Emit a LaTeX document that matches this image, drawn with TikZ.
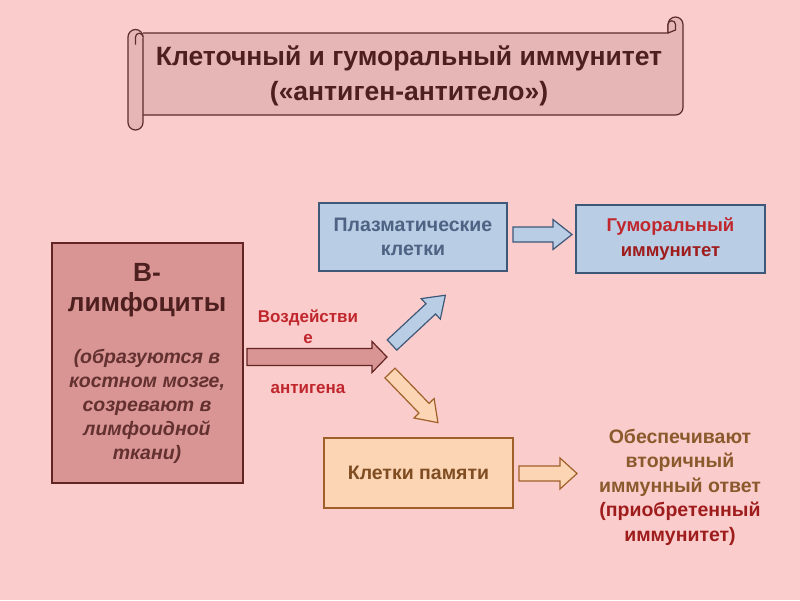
\documentclass[tikz,border=0pt]{standalone}
\usepackage{fontspec}
\setmainfont{Liberation Sans}
\definecolor{bgpink}{HTML}{FBCCCC}
\definecolor{scrollfill}{HTML}{E6B5B5}
\definecolor{scrollline}{HTML}{5C2B2B}
\definecolor{rosefill}{HTML}{D99594}
\definecolor{roseline}{HTML}{632523}
\definecolor{bluefill}{HTML}{B9CDE5}
\definecolor{blueline}{HTML}{3E5878}
\definecolor{peachfill}{HTML}{FCD5B5}
\definecolor{peachline}{HTML}{A0602A}
\definecolor{titletext}{HTML}{4E1F1F}
\definecolor{redtext}{HTML}{C0272D}
\definecolor{darkred}{HTML}{9E1C1C}
\definecolor{bluetext}{HTML}{4E6283}
\definecolor{browntext}{HTML}{8A5A2C}
\newcommand{\blockarrow}[7]{%
  \begin{scope}[shift={#2},rotate=#3]
    \draw[#1] (0,-#5) -- ({#4-#7},-#5) -- ({#4-#7},-#6) -- (#4,0)
      -- ({#4-#7},#6) -- ({#4-#7},#5) -- (0,#5) -- cycle;
  \end{scope}}
\begin{document}
\begin{tikzpicture}[x=1pt,y=-1pt,line width=1.2pt,line join=miter,
  scroll/.style={fill=scrollfill,draw=scrollline},
  box/.style={draw,minimum width=189pt,minimum height=68pt,inner sep=0pt},
  rosebox/.style={box,fill=rosefill,draw=roseline},
  bluebox/.style={box,fill=bluefill,draw=blueline},
  peachbox/.style={box,fill=peachfill,draw=peachline},
  rosearrow/.style={fill=rosefill,draw=roseline},
  bluearrow/.style={fill=bluefill,draw=blueline},
  peacharrow/.style={fill=peachfill,draw=peachline},
  txt/.style={align=center,inner sep=0pt,font=\bfseries\fontsize{19.5}{24.5}\selectfont}]
  \fill[bgpink] (0,0) rectangle (800,600);
  \useasboundingbox (0,0) rectangle (800,600);
  % scroll
  \draw[scroll] (143,33) -- (668,33) -- (668,24.5) arc[start angle=180,end angle=360,radius=7.5]
    -- (683,107.5) arc[start angle=0,end angle=90,radius=7.5] -- (143,115);
  \draw[scroll] (668,33) -- (668,24.5) arc[start angle=180,end angle=360,radius=3.75]
    -- (675.5,30) -- (668,33);
  \draw[scroll] (128,37) -- (128,122.5) arc[start angle=180,end angle=0,radius=7.5]
    -- (143,37) arc[start angle=0,end angle=-180,radius=7.5] -- cycle;
  \draw[scroll] (135.5,44.5) -- (135.5,37) arc[start angle=180,end angle=360,radius=3.75];
  \node[txt,text=titletext,font=\bfseries\fontsize{26.5}{35}\selectfont] (title) at (409,76)
    {Клеточный и гуморальный иммунитет\\(«антиген-антитело»)};
  % boxes
  \node[rosebox,minimum width=191pt,minimum height=240pt] (blymph) at (147.5,363) {};
  \node[txt,text=titletext,font=\bfseries\fontsize{26.3}{30}\selectfont] (bname) at (147,290)
    {В-\\лимфоциты};
  \node[txt,text=titletext!85!rosefill,font=\bfseries\itshape\fontsize{19.5}{24}\selectfont] (bnote)
    at (147,406) {(образуются в\\костном мозге,\\созревают в\\лимфоидной\\ткани)};
  \node[bluebox,minimum width=188pt] (plasma) at (413,237) {};
  \node[txt,text=bluetext] (plasmatext) at (plasma) {Плазматические\\клетки};
  \node[bluebox] (humoral) at (670.5,239) {};
  \node[txt,font=\bfseries\fontsize{18.5}{24.5}\selectfont] (humoraltext) at (humoral)
    {\textcolor{redtext}{Гуморальный}\\\textcolor{darkred}{иммунитет}};
  \node[peachbox,minimum height=70pt] (memory) at (418.5,473) {};
  \node[txt,text=peachline!80!black] (memorytext) at (memory) {Клетки памяти};
  \node[txt,font=\bfseries\fontsize{19.5}{24.5}\selectfont] (effect) at (680,487)
    {\textcolor{browntext}{Обеспечивают}\\\textcolor{browntext}{вторичный}\\
     \textcolor{browntext}{иммунный ответ}\\\textcolor{darkred}{(приобретенный}\\
     \textcolor{darkred}{иммунитет)}};
  % arrows
  \blockarrow{rosearrow}{(247,357)}{0}{140}{8.5}{15.5}{15}
  \blockarrow{bluearrow}{(513,234.5)}{0}{59}{7.5}{15}{19}
  \blockarrow{peacharrow}{(519,473.5)}{0}{58}{7.5}{15.5}{17}
  \blockarrow{bluearrow}{(392,345)}{43}{73}{7}{14}{20}
  \blockarrow{peacharrow}{(390,373)}{-46}{69}{7}{14}{20}
  \node[txt,text=redtext,font=\bfseries\fontsize{17}{21}\selectfont] (act) at (308,326.5)
    {Воздействи\\е};
  \node[txt,text=redtext,font=\bfseries\fontsize{17}{21}\selectfont] (antigen) at (308,389)
    {антигена};
\end{tikzpicture}
\end{document}
